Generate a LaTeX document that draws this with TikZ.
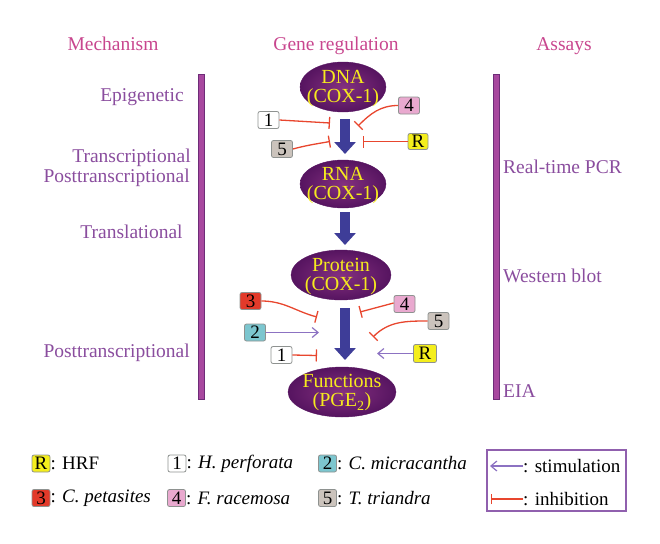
\documentclass[tikz,border=0pt]{standalone}
\usepackage{fontspec}
\setmainfont{Liberation Serif}
\usetikzlibrary{shapes.geometric,arrows.meta}
\definecolor{headpink}{HTML}{C8468E}
\definecolor{labpurple}{HTML}{8A4D9E}
\definecolor{barfill}{HTML}{A8489F}
\definecolor{bardraw}{HTML}{6E2C78}
\definecolor{ellin}{HTML}{84307F}
\definecolor{ellout}{HTML}{561460}
\definecolor{elltext}{HTML}{F6EA1E}
\definecolor{arrowblue}{HTML}{3E3D98}
\definecolor{inhred}{HTML}{E8462E}
\definecolor{stimpurple}{HTML}{8C72C2}
\definecolor{boxgray}{HTML}{8E9290}
\definecolor{cR}{HTML}{F4EE1C}
\definecolor{cOne}{HTML}{FFFFFF}
\definecolor{cTwo}{HTML}{7CC6CF}
\definecolor{cThree}{HTML}{E23A2A}
\definecolor{cFour}{HTML}{E9A9CF}
\definecolor{cFive}{HTML}{CBC3BC}
\definecolor{legborder}{HTML}{9060AE}
\begin{document}
\begin{tikzpicture}[x=1pt,y=-1pt,
  every node/.style={font=\fontsize{19.5}{21}\selectfont},
  header/.style={text=headpink, anchor=base, inner sep=0pt},
  mech/.style={text=labpurple, anchor=base, inner sep=0pt},
  mechr/.style={text=labpurple, anchor=base east, inner sep=0pt},
  assay/.style={text=labpurple, anchor=base west, inner sep=0pt},
  sidebar/.style={fill=barfill, draw=bardraw, line width=0.6pt},
  geneell/.style={ellipse, inner color=ellin, outer color=ellout, draw=ellout, line width=0.4pt, inner sep=0pt},
  genetext/.style={text=elltext, align=center, inner sep=0pt, font=\fontsize{20}{19}\selectfont},
  bigarrow/.style={draw=arrowblue, line width=10pt, -{Triangle[width=21pt,length=12pt]}},
  fbox/.style={draw=boxgray, rounded corners=2pt, line width=0.8pt, minimum width=21pt, minimum height=17pt, inner sep=0pt, font=\fontsize{19}{19}\selectfont},
  lbox/.style={fbox, minimum width=18pt, minimum height=17pt},
  inh/.style={draw=inhred, line width=1.3pt, -{Bar[width=12pt,line width=1.3pt]}},
  stim/.style={draw=stimpurple, line width=1.3pt, -{Straight Barb[length=6pt,width=10pt,line width=1.2pt]}},
  legtext/.style={anchor=west, inner sep=0pt, font=\fontsize{19}{21}\selectfont}
]
\useasboundingbox (0,0) rectangle (660,543);

% headers
\node[header] (hmech) at (113,50) {Mechanism};
\node[header] (hgene) at (336,50) {Gene regulation};
\node[header] (hassay) at (564,50) {Assays};

% side bars
\fill[sidebar] (198,74) rectangle (204,399);
\fill[sidebar] (493,74) rectangle (499,399);

% mechanism labels
\node[mech] (mepi) at (142,101.5) {Epigenetic};
\node[mech] (mtrans) at (131.5,162) {Transcriptional};
\node[mechr] (mpost1) at (190,182) {Posttranscriptional};
\node[mech] (mtransl) at (131.5,238) {Translational};
\node[mechr] (mpost2) at (190,357.5) {Posttranscriptional};

% assays
\node[assay] (apcr) at (503,173) {Real-time PCR};
\node[assay] (awb) at (503,282) {Western blot};
\node[assay] (aeia) at (503,397) {EIA};

% gene ellipses
\node[geneell, minimum width=86pt, minimum height=50pt] (dna) at (343,87) {};
\node[genetext] (dnat) at (343,89) {DNA\\(COX-1)};
\node[geneell, minimum width=86pt, minimum height=48pt] (rna) at (343,184) {};
\node[genetext] (rnat) at (343,186) {RNA\\(COX-1)};
\node[geneell, minimum width=100pt, minimum height=50pt] (prot) at (341,275) {};
\node[genetext] (prott) at (341,277) {Protein\\(COX-1)};
\node[geneell, minimum width=108pt, minimum height=50pt] (func) at (342,392) {};
\node[genetext] (funct) at (342,393) {Functions\\(PGE\textsubscript{2})};

% big arrows
\coordinate (a1s) at (345,119);
\coordinate (a1e) at (345,154);
\coordinate (a2s) at (345,212);
\coordinate (a2e) at (345,245);
\coordinate (a3s) at (345,308);
\coordinate (a3e) at (345,360);
\draw[bigarrow] (a1s) -- (a1e);
\draw[bigarrow] (a2s) -- (a2e);
\draw[bigarrow] (a3s) -- (a3e);

% regulators, first step
\node[fbox, fill=cOne] (b1a) at (268.5,120) {1};
\node[fbox, fill=cFive] (b5a) at (282,149) {5};
\node[fbox, fill=cFour] (b4a) at (409,105.5) {4};
\node[fbox, fill=cR, minimum width=20pt, minimum height=16pt] (bRa) at (418,141.5) {R};
\coordinate (t1a) at (330,123);
\coordinate (t5a) at (330,141.5);
\coordinate (t4a) at (358,126);
\coordinate (tRa) at (363,141.5);
\draw[inh] (b1a.east) -- (t1a);
\draw[inh] (b5a.east) to[out=15,in=190] (t5a);
\draw[inh] (b4a.west) to[out=180,in=45] (t4a);
\draw[inh] (bRa.west) -- (tRa);

% regulators, last step
\node[fbox, fill=cThree] (b3b) at (250.5,301) {3};
\node[fbox, fill=cTwo] (b2b) at (255,332.5) {2};
\node[fbox, fill=cOne] (b1b) at (281.5,355) {1};
\node[fbox, fill=cFour] (b4b) at (404.5,304) {4};
\node[fbox, fill=cFive] (b5b) at (438.5,321) {5};
\node[fbox, fill=cR, minimum width=23pt, minimum height=18pt] (bRb) at (425,353.5) {R};
\coordinate (t3b) at (317,317);
\coordinate (s2b) at (319,332.5);
\coordinate (t1b) at (317,355.5);
\coordinate (t4b) at (360,312);
\coordinate (t5b) at (373,337);
\coordinate (sRb) at (377,353.5);
\draw[inh] (b3b.east) to[out=0,in=165] (t3b);
\draw[stim] (b2b.east) -- (s2b);
\draw[inh] (b1b.east) -- (t1b);
\draw[inh] ([yshift=1pt]b4b.west) -- (t4b);
\draw[inh] (b5b.west) to[out=180,in=45] (t5b);
\draw[stim] (bRb.west) -- (sRb);

% legend
\node[lbox, fill=cR] (lR) at (41,463.5) {R};
\node[legtext] (lRt) at (lR.east) {: HRF};
\node[lbox, fill=cOne] (l1) at (177,463.5) {1};
\node[legtext] (l1t) at (l1.east) {: \textit{H. perforata}};
\node[lbox, fill=cTwo] (l2) at (327.5,463.5) {2};
\node[legtext] (l2t) at (l2.east) {: \textit{C. micracantha}};
\node[lbox, fill=cThree] (l3) at (41,498) {3};
\node[legtext] (l3t) at (l3.east) {: \textit{C. petasites}};
\node[lbox, fill=cFour] (l4) at (176.5,498) {4};
\node[legtext] (l4t) at (l4.east) {: \textit{F. racemosa}};
\node[lbox, fill=cFive] (l5) at (327.5,498) {5};
\node[legtext] (l5t) at (l5.east) {: \textit{T. triandra}};

\node[draw=legborder, line width=1.4pt, minimum width=139pt, minimum height=61pt, inner sep=0pt] (legbox) at (556.5,480.5) {};
\coordinate (ls0) at (490,466);
\coordinate (ls1) at (523,466);
\coordinate (li0) at (491,499);
\coordinate (li1) at (523,499);
\draw[stim] (ls1) -- (ls0);
\draw[inh, -{Bar[width=10pt,line width=1.3pt]}] (li1) -- (li0);
\node[legtext] (lst) at (ls1) {: stimulation};
\node[legtext] (lit) at (li1) {: inhibition};
\end{tikzpicture}
\end{document}
